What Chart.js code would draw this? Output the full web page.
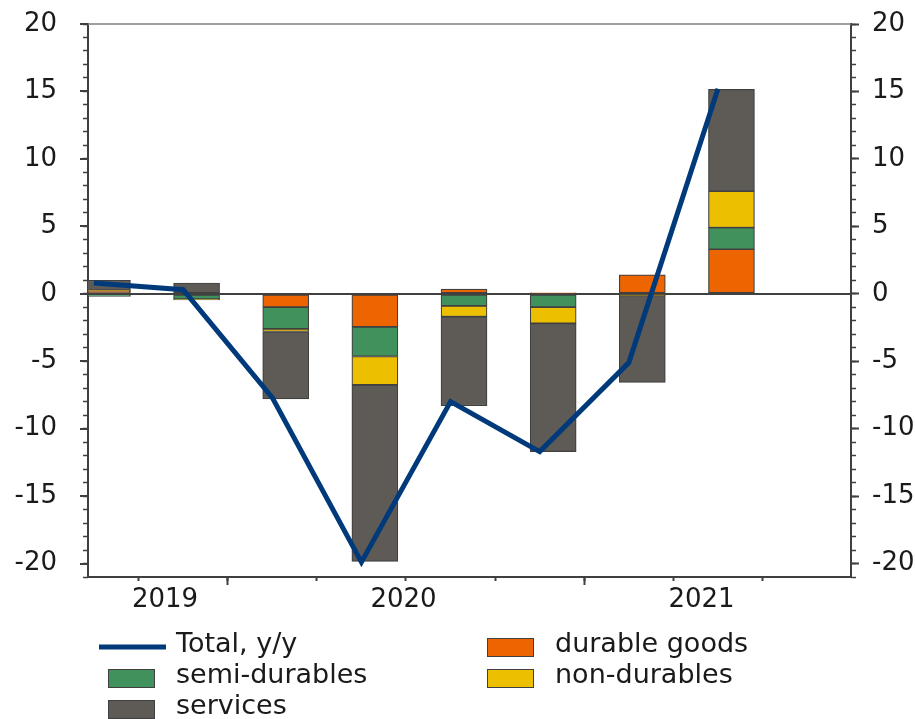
<!DOCTYPE html>
<html>
<head>
<meta charset="utf-8">
<script src="https://cdn.jsdelivr.net/npm/chart.js@4.4.1/dist/chart.umd.min.js"></script>
<style>
  html, body { margin: 0; padding: 0; background: #fff; }
</style>
</head>
<body>
<canvas id="chart" width="915" height="719"></canvas>
<script>
// quarters 2019Q3 .. 2021Q2, contributions in p.p., total in % y/y
const quarters = ['2019Q3', '2019Q4', '2020Q1', '2020Q2', '2020Q3', '2020Q4', '2021Q1', '2021Q2'];
const totalYY = [0.8, 0.3, -7.7, -19.9, -8.0, -11.7, -5.1, 15.2];
const durableGoods = [0.2, 0.0, -1.0, -2.45, 0.35, 0.05, 1.4, 3.3];
const semiDurables = [-0.2, -0.4, -1.6, -2.2, -0.9, -1.0, 0.0, 1.6];
const nonDurables = [0.05, -0.05, -0.2, -2.1, -0.8, -1.2, -0.12, 2.7];
const services = [0.75, 0.8, -5.0, -13.1, -6.6, -9.5, -6.45, 7.55];
const yearLabels = ['2019', '2020', '2021'];
const yTicks = [-20, -15, -10, -5, 0, 5, 10, 15, 20];

const axisColor = '#404040';
const textColor = '#1a1a1a';
const fontFamily = "'DejaVu Sans', sans-serif";

// where the year labels and the year breaks sit on the quarter axis
const yearLabelAt = [0.797, 3.472, 6.815];
const yearBreakAt = [1.5, 5.5];

Chart.defaults.font.family = fontFamily;
Chart.defaults.font.size = 26;
Chart.defaults.color = textColor;

const toPoints = arr => arr.map((v, i) => ({ x: i, y: v }));

function barSet(label, values, color) {
    return {
        type: 'bar',
        label: label,
        data: toPoints(values),
        backgroundColor: color,
        borderColor: axisColor,
        borderWidth: 1.2,
        borderSkipped: false,
        barThickness: 46,
        grouped: false,
        xAxisID: 'xb',
        yAxisID: 'y',
        stack: 'parts',
        order: 1
    };
}

// top frame line + two-column legend under the axis
const frameAndLegend = {
    id: 'frameAndLegend',
    afterDraw(chart) {
        const ctx = chart.ctx;
        const area = chart.chartArea;
        ctx.save();
        ctx.strokeStyle = '#808080';
        ctx.lineWidth = 1.5;
        ctx.beginPath();
        ctx.moveTo(area.left, area.top);
        ctx.lineTo(area.right, area.top);
        ctx.stroke();

        const boxX = [108, 487];
        const textX = [176, 555];
        const baseY = [652, 683, 714];
        ctx.font = '27px ' + fontFamily;
        ctx.textBaseline = 'alphabetic';
        ctx.textAlign = 'left';
        chart.data.datasets.forEach((ds, k) => {
            const col = k % 2;
            const row = Math.floor(k / 2);
            const y = baseY[row];
            if (ds.type === 'line') {
                ctx.strokeStyle = ds.borderColor;
                ctx.lineWidth = 5;
                ctx.beginPath();
                ctx.moveTo(99, y - 5);
                ctx.lineTo(166, y - 5);
                ctx.stroke();
            } else {
                ctx.fillStyle = ds.backgroundColor;
                ctx.fillRect(boxX[col], y - 14, 47, 19);
                ctx.strokeStyle = axisColor;
                ctx.lineWidth = 1;
                ctx.strokeRect(boxX[col] + 0.5, y - 13.5, 46, 18);
            }
            ctx.fillStyle = textColor;
            ctx.fillText(ds.label, textX[col], y);
        });
        ctx.restore();
    }
};

// y axes: fixed width, no extra label padding above/below the plot
const fixY = w => s => { s.width = w; s.paddingTop = 0; s.paddingBottom = 0; };

const ctx = document.getElementById('chart').getContext('2d');

new Chart(ctx, {
    data: {
        datasets: [
            {
                type: 'line',
                label: 'Total, y/y',
                data: toPoints(totalYY),
                borderColor: '#003a7a',
                borderWidth: 5,
                borderJoinStyle: 'miter',
                pointRadius: 0,
                tension: 0,
                xAxisID: 'x',
                yAxisID: 'y',
                stack: 'total',
                order: 0
            },
            barSet('durable goods', durableGoods, '#ec6500'),
            barSet('semi-durables', semiDurables, '#41915c'),
            barSet('non-durables', nonDurables, '#ecc000'),
            barSet('services', services, '#5e5a56')
        ]
    },
    options: {
        responsive: false,
        animation: false,
        layout: { padding: { top: 24, left: 0, right: 0, bottom: 0 } },
        plugins: {
            legend: { display: false },
            tooltip: { enabled: false }
        },
        scales: {
            // quarter axis for the line, short ticks between quarters
            x: {
                type: 'linear', position: 'bottom', weight: 0, offset: false,
                min: -0.0673, max: 8.492,
                afterBuildTicks: s => { s.ticks = quarters.map((q, i) => ({ value: i + 0.5 })); },
                afterFit: s => { s.height = 0; },
                ticks: { display: false },
                grid: { drawOnChartArea: false, tickLength: 4, tickWidth: 2, tickColor: axisColor },
                border: { display: true, color: axisColor, width: 2 }
            },
            // year breaks (long ticks) and year labels
            xl: {
                type: 'linear', position: 'bottom', weight: 1, offset: false,
                min: -0.0673, max: 8.492,
                afterBuildTicks: s => {
                    s.ticks = yearLabelAt.concat(yearBreakAt).sort((a, b) => a - b).map(v => ({ value: v }));
                },
                afterFit: s => { s.height = 142; },
                ticks: {
                    autoSkip: false, maxRotation: 0, padding: 0,
                    callback: v => {
                        const i = yearLabelAt.indexOf(v);
                        return i >= 0 ? yearLabels[i] : '';
                    }
                },
                grid: {
                    drawOnChartArea: false, tickLength: 8, tickWidth: 2,
                    tickColor: c => (c.tick && yearBreakAt.includes(c.tick.value)) ? axisColor : 'rgba(0,0,0,0)'
                },
                border: { display: false }
            },
            // the bars sit a little to the right of the line points
            xb: {
                type: 'linear', display: false, offset: false,
                grid: { offset: false },
                min: -0.218, max: 8.341
            },
            y: {
                position: 'left', weight: 1, stacked: true,
                min: -21, max: 20,
                afterBuildTicks: s => { s.ticks = yTicks.map(v => ({ value: v })); },
                afterFit: fixY(88),
                ticks: { padding: 23 },
                grid: {
                    drawOnChartArea: true,
                    color: c => (c.tick && c.tick.value === 0) ? axisColor : 'rgba(0,0,0,0)',
                    lineWidth: 2, tickLength: 8, tickWidth: 2, tickColor: axisColor
                },
                border: { color: axisColor, width: 2 }
            },
            ym: {
                position: 'left', weight: 0,
                min: -21, max: 20,
                afterBuildTicks: s => { s.ticks = []; for (let v = -21; v <= 20; v++) s.ticks.push({ value: v }); },
                afterFit: fixY(0),
                ticks: { display: false },
                grid: { drawOnChartArea: false, tickLength: 5, tickWidth: 1.5, tickColor: axisColor },
                border: { display: false }
            },
            yr: {
                position: 'right', weight: 1,
                min: -21, max: 20,
                afterBuildTicks: s => { s.ticks = yTicks.map(v => ({ value: v })); },
                afterFit: fixY(64),
                ticks: { padding: 13 },
                grid: { drawOnChartArea: false, tickLength: 8, tickWidth: 2, tickColor: axisColor },
                border: { color: axisColor, width: 2 }
            },
            yrm: {
                position: 'right', weight: 0,
                min: -21, max: 20,
                afterBuildTicks: s => { s.ticks = []; for (let v = -21; v <= 20; v++) s.ticks.push({ value: v }); },
                afterFit: fixY(0),
                ticks: { display: false },
                grid: { drawOnChartArea: false, tickLength: 5, tickWidth: 1.5, tickColor: axisColor },
                border: { display: false }
            }
        }
    },
    plugins: [frameAndLegend]
});
</script>
</body>
</html>
